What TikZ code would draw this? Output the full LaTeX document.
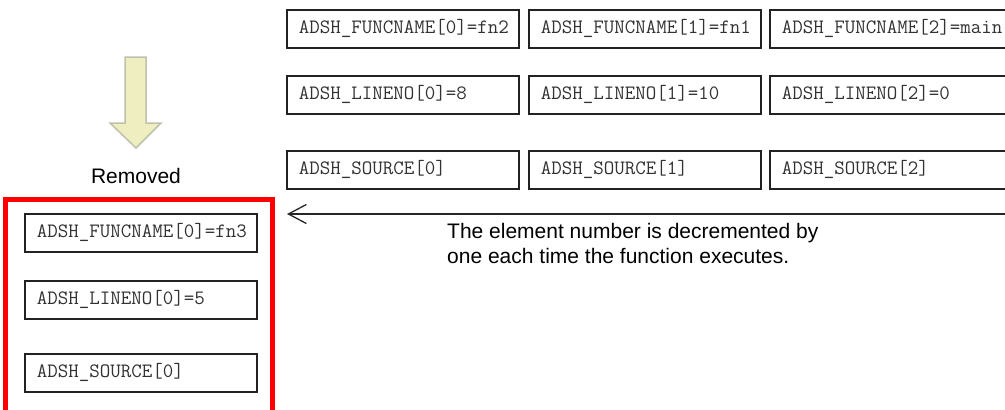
\documentclass[tikz,border=0pt]{standalone}
\usepackage{fontspec}
\setmainfont{Liberation Sans}
\usetikzlibrary{arrows.meta}
\definecolor{arrowfill}{RGB}{238,238,192}
\definecolor{arrowline}{RGB}{192,192,172}
\definecolor{framered}{RGB}{255,0,0}
\definecolor{cellline}{RGB}{34,34,34}
\definecolor{celltext}{RGB}{50,50,50}
\begin{document}
\begin{tikzpicture}[x=1pt,y=-1pt,
  cell/.style={draw=cellline, line width=1.5pt, rectangle, anchor=north west,
    minimum height=38pt, text width=208pt, inner xsep=12pt, inner ysep=0pt,
    align=left, font=\ttfamily\fontsize{20.4}{22}\selectfont, text=celltext},
  label text/.style={font=\fontsize{21}{25}\selectfont, text=black, inner sep=0pt},
  frame/.style={draw=framered, line width=5pt},
  bigarrow/.style={fill=arrowfill, draw=arrowline, line width=1.5pt, line join=miter},
  shift arrow/.style={draw=black!85, line width=1.4pt,
    -{Straight Barb[length=18pt,width=19pt,line width=1.3pt]}}
]
\useasboundingbox (0,0) rectangle (1005,410);
\clip (0,0) rectangle (1005,410);

% remaining stack
\node[cell] (fn0) at (286,9)   {ADSH\_FUNCNAME[0]=fn2};
\node[cell] (fn1) at (528,9)   {ADSH\_FUNCNAME[1]=fn1};
\node[cell, text width=232pt] (fn2) at (769,9) {ADSH\_FUNCNAME[2]=main};
\node[cell] (ln0) at (286,75)  {ADSH\_LINENO[0]=8};
\node[cell] (ln1) at (528,75)  {ADSH\_LINENO[1]=10};
\node[cell, text width=232pt] (ln2) at (769,75) {ADSH\_LINENO[2]=0};
\node[cell] (sr0) at (286,150) {ADSH\_SOURCE[0]};
\node[cell] (sr1) at (528,150) {ADSH\_SOURCE[1]};
\node[cell, text width=232pt] (sr2) at (769,150) {ADSH\_SOURCE[2]};

% removed element
\draw[frame] (5.5,199) rectangle (272,412);
\node[cell] (rfn) at (24,213)  {ADSH\_FUNCNAME[0]=fn3};
\node[cell] (rln) at (24,280)  {ADSH\_LINENO[0]=5};
\node[cell] (rsr) at (24,353)  {ADSH\_SOURCE[0]};

% down arrow
\draw[bigarrow] (125,57) -- (146,57) -- (146,123) -- (161,123) -- (136,148)
  -- (110,123) -- (125,123) -- cycle;
\node[label text, anchor=base] (removed) at (136,183) {Removed};

% shift arrow
\coordinate (shiftstart) at (1012,214);
\coordinate (shiftend) at (287,214);
\draw[shift arrow] (shiftstart) -- (shiftend);
\node[label text, anchor=base west, align=left] (note) at (447,263)
  {The element number is decremented by\\one each time the function executes.};
\end{tikzpicture}
\end{document}
